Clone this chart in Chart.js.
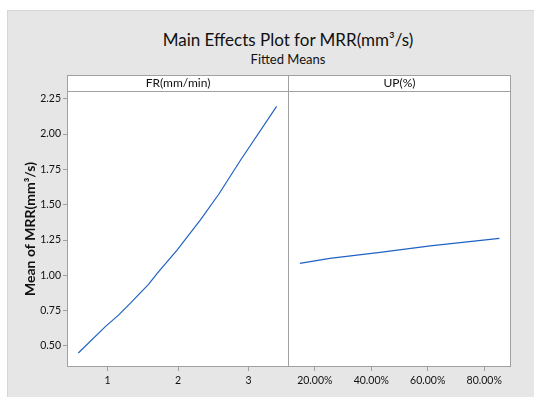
<!DOCTYPE html>
<html>
<head>
<meta charset="utf-8">
<script src="https://cdn.jsdelivr.net/npm/chart.js@4.4.1/dist/chart.umd.min.js"></script>
<style>
  body { margin: 0; background: #fff; }
  #wrap { position: relative; width: 534px; height: 397px; overflow: hidden; }
  #bg { position: absolute; left: 7px; top: 10px; width: 527px; height: 386px; background: #e6e6e6; border-left: 1px solid #d6d6d6; border-top: 1px solid #d6d6d6; }
  .ttl { position: absolute; left: 88px; width: 400px; text-align: center; font-family: Lato, sans-serif; color: #111; white-space: nowrap; }
  #title { top: 29px; font-size: 17px; }
  #sub { top: 51px; font-size: 13px; }
  #left { position: absolute; left: 0; top: 0; }
  #right { position: absolute; left: 288px; top: 0; }
</style>
</head>
<body>
<div id="wrap">
  <div id="bg"></div>
  <div class="ttl" id="title">Main Effects Plot for MRR(mm³/s)</div>
  <div class="ttl" id="sub">Fitted Means</div>
  <div id="left" style="width:289px;height:397px"><canvas id="frChart"></canvas></div>
  <div id="right" style="width:246px;height:397px"><canvas id="upChart"></canvas></div>
</div>
<script>
// valeurs
const frX = [0.584, 0.964, 1.154, 1.296, 1.581, 1.701, 1.986, 2.318, 2.578, 2.887, 3.4];
const frY = [0.45, 0.635, 0.718, 0.789, 0.936, 1.012, 1.179, 1.392, 1.574, 1.815, 2.196];
const upX = [14.7, 25.3, 43.1, 60.9, 85.4];
const upY = [1.085, 1.12, 1.163, 1.208, 1.262];
const yTicks = [0.5, 0.75, 1.0, 1.25, 1.5, 1.75, 2.0, 2.25];
const frTicks = [1, 2, 3];
const upTicks = [20, 40, 60, 80];

const FONT = "Lato, sans-serif";
const LINE = "#1f62c4";
const EDGE = "#a0a0a0";

// cadre du panneau + bandeau du titre
const panel = {
  id: "panel",
  beforeDraw(chart, args, opts) {
    const { ctx, chartArea: a } = chart;
    ctx.save();
    ctx.fillStyle = "#fff";
    ctx.fillRect(a.left, a.top - 16, a.width, a.height + 16);
    ctx.restore();
  },
  afterDraw(chart, args, opts) {
    const { ctx, chartArea: a } = chart;
    ctx.save();
    ctx.strokeStyle = EDGE;
    ctx.lineWidth = 1;
    ctx.strokeRect(a.left + 0.5, a.top - 15.5, a.width - 1, a.height + 15);
    ctx.beginPath();
    ctx.moveTo(a.left, a.top + 0.5);
    ctx.lineTo(a.right, a.top + 0.5);
    ctx.stroke();
    ctx.fillStyle = "#111";
    ctx.font = "12px " + FONT;
    ctx.textAlign = "center";
    ctx.textBaseline = "middle";
    ctx.fillText(opts.label, (a.left + a.right) / 2, a.top - 7.5);
    ctx.restore();
  },
};

function pts(xs, ys) {
  return xs.map((x, i) => ({ x: x, y: ys[i] }));
}

function yScale(show) {
  return {
    display: show,
    min: 0.351,
    max: 2.305,
    afterBuildTicks: (s) => { s.ticks = yTicks.map((v) => ({ value: v })); },
    afterFit: (s) => { s.width = show ? 48 : 0; },
    grid: { drawOnChartArea: false, tickLength: 4, color: EDGE },
    border: { display: false },
    ticks: { padding: 2, color: "#111", font: { family: FONT, size: 10.5 }, callback: (v) => v.toFixed(2) },
    title: { display: true, text: "Mean of MRR(mm³/s)", color: "#111", font: { family: FONT, size: 14, weight: "bold" }, padding: { top: 3, bottom: 0 } },
  };
}

function xScale(min, max, ticks, fmt) {
  return {
    type: "linear",
    min: min,
    max: max,
    afterBuildTicks: (s) => { s.ticks = ticks.map((v) => ({ value: v })); },
    afterFit: (s) => { s.height = 30; },
    grid: { drawOnChartArea: false, tickLength: 4, color: EDGE },
    border: { display: false },
    ticks: { padding: 3, maxRotation: 0, color: "#111", font: { family: FONT, size: 10.5 }, callback: fmt },
  };
}

new Chart(document.getElementById("frChart"), {
  type: "line",
  data: {
    datasets: [{ data: pts(frX, frY), borderColor: LINE, borderWidth: 1.2, pointRadius: 0, tension: 0 }],
  },
  options: {
    responsive: true,
    maintainAspectRatio: false,
    animation: false,
    layout: { padding: { left: 19, top: 91, right: 0, bottom: 0 } },
    plugins: { legend: { display: false }, tooltip: { enabled: false }, panel: { label: "FR(mm/min)" } },
    scales: {
      x: xScale(0.423, 3.576, frTicks, (v) => String(v)),
      y: yScale(true),
    },
  },
  plugins: [panel],
});

new Chart(document.getElementById("upChart"), {
  type: "line",
  data: {
    datasets: [{ data: pts(upX, upY), borderColor: LINE, borderWidth: 1.2, pointRadius: 0, tension: 0 }],
  },
  options: {
    responsive: true,
    maintainAspectRatio: false,
    animation: false,
    layout: { padding: { left: 0, top: 91, right: 23, bottom: 0 } },
    plugins: { legend: { display: false }, tooltip: { enabled: false }, panel: { label: "UP(%)" } },
    scales: {
      x: xScale(10.5, 89.5, upTicks, (v) => v.toFixed(2) + "%"),
      y: yScale(false),
    },
  },
  plugins: [panel],
});
</script>
</body>
</html>
